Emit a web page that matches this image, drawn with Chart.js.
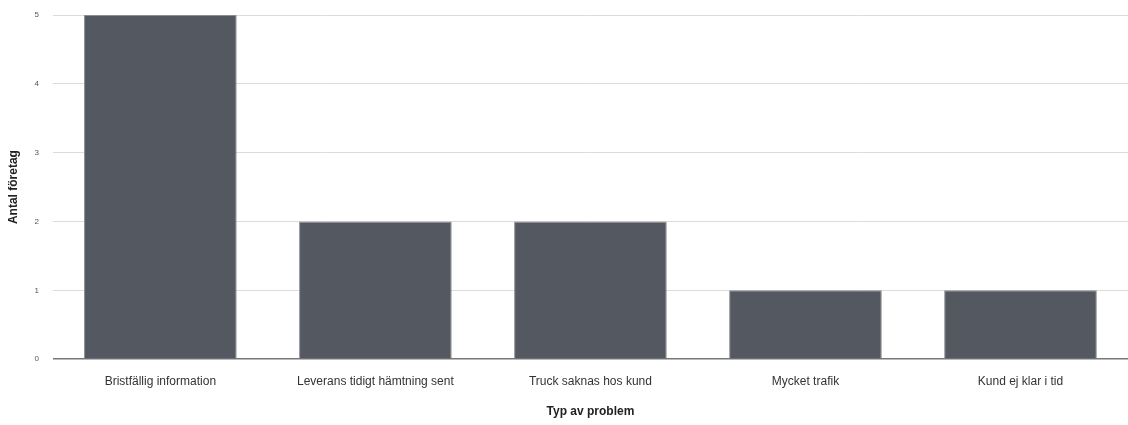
<!DOCTYPE html>
<html>
<head>
<meta charset="utf-8">
<script src="https://cdn.jsdelivr.net/npm/chart.js@4/dist/chart.umd.min.js"></script>
<style>
  html, body { margin: 0; padding: 0; background: #fff; }
  #wrap { width: 1128px; height: 425px; }
</style>
</head>
<body>
<div id="wrap"><canvas id="myChart"></canvas></div>
<script>
// Data
const categories = ['Bristfällig information', 'Leverans tidigt hämtning sent', 'Truck saknas hos kund', 'Mycket trafik', 'Kund ej klar i tid'];
const antalForetag = [5, 2, 2, 1, 1];
const yTicks = [0, 1, 2, 3, 4, 5];

const ctx = document.getElementById('myChart');

new Chart(ctx, {
  type: 'bar',
  data: {
    labels: categories,
    datasets: [{
      label: 'Antal företag',
      data: antalForetag,
      backgroundColor: '#545860',
      borderColor: '#8a8d92',
      borderWidth: 1,
      barPercentage: 0.71,
      categoryPercentage: 1.0
    }]
  },
  options: {
    animation: false,
    responsive: true,
    maintainAspectRatio: false,
    layout: { padding: { top: 15, right: 0, bottom: 4, left: 6 } },
    plugins: {
      legend: { display: false },
      tooltip: { enabled: false }
    },
    scales: {
      y: {
        min: 0,
        max: 5,
        afterBuildTicks: axis => { axis.ticks = yTicks.map(v => ({ value: v })); },
        afterFit: axis => { axis.paddingTop = 0; axis.paddingBottom = 0; },
        ticks: { font: { family: 'Liberation Sans', size: 8 }, color: '#555', padding: 14 },
        grid: {
          drawTicks: false,
          color: ctx => ctx.tick && ctx.tick.value === 0 ? '#777' : '#dcdcdc',
          lineWidth: ctx => ctx.tick && ctx.tick.value === 0 ? 1.5 : 1
        },
        border: { display: false },
        title: {
          display: true,
          text: 'Antal företag',
          font: { family: 'Liberation Sans', size: 12, weight: 'bold' },
          color: '#222',
          padding: { top: 0, bottom: 0 }
        }
      },
      x: {
        grid: { display: false, drawTicks: false },
        border: { display: false },
        ticks: { font: { family: 'Liberation Sans', size: 12 }, color: '#333', padding: 15, maxRotation: 0 },
        title: {
          display: true,
          text: 'Typ av problem',
          font: { family: 'Liberation Sans', size: 12, weight: 'bold' },
          color: '#222',
          padding: { top: 1, bottom: 2 }
        }
      }
    }
  }
});
</script>
</body>
</html>
